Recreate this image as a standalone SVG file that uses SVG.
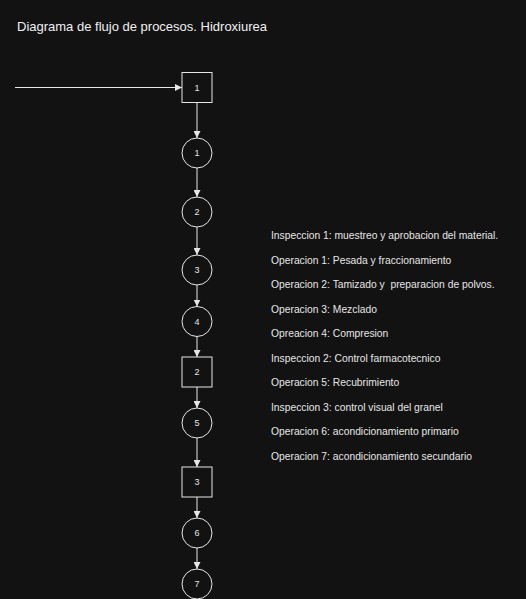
<svg xmlns="http://www.w3.org/2000/svg" width="526" height="599" viewBox="0 0 526 599">
<defs>
<style>
.bg{fill:#121212}
.shape{fill:none;stroke:#e6e6e6;stroke-width:1}
.conn{stroke:#e6e6e6;stroke-width:1;fill:none}
.lbl{font-family:"Liberation Sans",Arial,sans-serif;font-size:9px;fill:#e6e6e6;text-anchor:middle;dominant-baseline:central}
.t{font-family:"Liberation Sans",Arial,sans-serif;font-size:10.3px;fill:#e6e6e6;dominant-baseline:central;white-space:pre}
.title{font-family:"Liberation Sans",Arial,sans-serif;font-size:13px;fill:#f0f0f0}
</style>
<marker id="arr" viewBox="0 0 10 10" refX="10" refY="5" markerWidth="7" markerHeight="7" markerUnits="userSpaceOnUse" orient="auto">
<path d="M0,0 L10,5 L0,10 z" fill="#e6e6e6"/>
</marker>
</defs>
<rect class="bg" x="0" y="0" width="526" height="599"/>
<text class="title" x="17" y="31">Diagrama de flujo de procesos. Hidroxiurea</text>
<g id="connectors">
<line class="conn" x1="15" y1="87.5" x2="182" y2="87.5" marker-end="url(#arr)"/>
<line class="conn" x1="197" y1="102.5" x2="197" y2="138" marker-end="url(#arr)"/>
<line class="conn" x1="197" y1="168" x2="197" y2="197" marker-end="url(#arr)"/>
<line class="conn" x1="197" y1="227" x2="197" y2="255" marker-end="url(#arr)"/>
<line class="conn" x1="197" y1="285" x2="197" y2="306.5" marker-end="url(#arr)"/>
<line class="conn" x1="197" y1="336.5" x2="197" y2="357" marker-end="url(#arr)"/>
<line class="conn" x1="197" y1="387" x2="197" y2="408" marker-end="url(#arr)"/>
<line class="conn" x1="197" y1="438" x2="197" y2="467" marker-end="url(#arr)"/>
<line class="conn" x1="197" y1="497" x2="197" y2="518" marker-end="url(#arr)"/>
<line class="conn" x1="197" y1="548" x2="197" y2="569" marker-end="url(#arr)"/>
</g>
<g id="insp1"><rect class="shape" x="182" y="72.5" width="30" height="30"/><text class="lbl" x="197" y="87.5">1</text></g>
<g id="op1"><circle class="shape" cx="197" cy="153" r="15"/><text class="lbl" x="197" y="153">1</text></g>
<g id="op2"><circle class="shape" cx="197" cy="212" r="15"/><text class="lbl" x="197" y="212">2</text></g>
<g id="op3"><circle class="shape" cx="197" cy="270" r="15"/><text class="lbl" x="197" y="270">3</text></g>
<g id="op4"><circle class="shape" cx="197" cy="321.5" r="15"/><text class="lbl" x="197" y="321.5">4</text></g>
<g id="insp2"><rect class="shape" x="182" y="357" width="30" height="30"/><text class="lbl" x="197" y="372">2</text></g>
<g id="op5"><circle class="shape" cx="197" cy="423" r="15"/><text class="lbl" x="197" y="423">5</text></g>
<g id="insp3"><rect class="shape" x="182" y="467" width="30" height="30"/><text class="lbl" x="197" y="482">3</text></g>
<g id="op6"><circle class="shape" cx="197" cy="533" r="15"/><text class="lbl" x="197" y="533">6</text></g>
<g id="op7"><circle class="shape" cx="197" cy="584" r="15"/><text class="lbl" x="197" y="584">7</text></g>
<g id="legend">
<text class="t" x="271" y="235.5">Inspeccion 1: muestreo y aprobacion del material.</text>
<text class="t" x="271" y="260">Operacion 1: Pesada y fraccionamiento</text>
<text class="t" x="271" y="284.5" xml:space="preserve">Operacion 2: Tamizado y  preparacion de polvos.</text>
<text class="t" x="271" y="309">Operacion 3: Mezclado</text>
<text class="t" x="271" y="333.5">Opreacion 4: Compresion</text>
<text class="t" x="271" y="358">Inspeccion 2: Control farmacotecnico</text>
<text class="t" x="271" y="382.5">Operacion 5: Recubrimiento</text>
<text class="t" x="271" y="407">Inspeccion 3: control visual del granel</text>
<text class="t" x="271" y="431.5">Operacion 6: acondicionamiento primario</text>
<text class="t" x="271" y="456">Operacion 7: acondicionamiento secundario</text>
</g>
</svg>
